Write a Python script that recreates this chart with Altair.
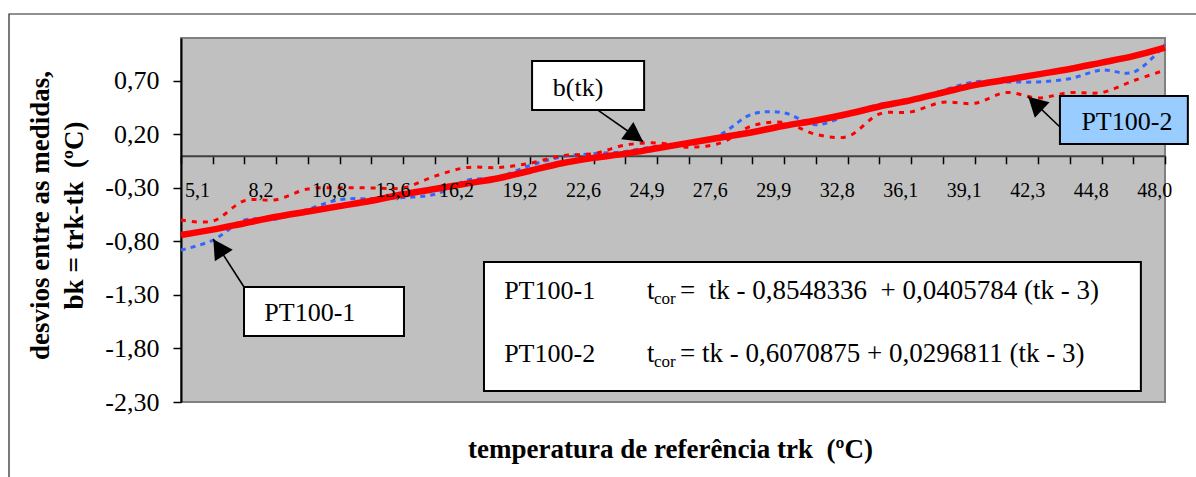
import math
import altair as alt
import pandas as pd

# ---------------- data ----------------
idx = list(range(32))  # category boundaries (positions along the x axis)

b_tk = [-0.74, -0.69, -0.63, -0.57, -0.52, -0.47, -0.42, -0.36, -0.31, -0.26,
        -0.21, -0.14, -0.07, -0.02, 0.02, 0.07, 0.12, 0.17, 0.22, 0.28,
        0.33, 0.39, 0.46, 0.52, 0.59, 0.66, 0.71, 0.76, 0.81, 0.87,
        0.93, 1.01]

pt100_1 = [-0.88, -0.79, -0.60, -0.59, -0.50, -0.41, -0.40, -0.39, -0.36, -0.23,
           -0.20, -0.09, -0.01, 0.02, 0.04, 0.09, 0.10, 0.20, 0.39, 0.40,
           0.29, 0.38, 0.48, 0.52, 0.61, 0.69, 0.69, 0.69, 0.72, 0.80,
           0.78, 1.04]

pt100_2 = [-0.60, -0.61, -0.42, -0.41, -0.31, -0.30, -0.30, -0.30, -0.19, -0.11,
           -0.11, -0.07, 0.00, 0.02, 0.10, 0.12, 0.08, 0.12, 0.28, 0.31,
           0.20, 0.18, 0.39, 0.41, 0.50, 0.49, 0.59, 0.54, 0.59, 0.59,
           0.70, 0.80]

cat_labels = ["5,1", "8,2", "10,8", "13,6", "16,2", "19,2", "22,6", "24,9",
              "27,6", "29,9", "32,8", "36,1", "39,1", "42,3", "44,8", "48,0"]
label_pos = list(range(0, 32, 2))

y_ticks = [-2.3, -1.8, -1.3, -0.8, -0.3, 0.2, 0.7]

# annotation boxes (data coordinates)
box_x0 = [11.06, 1.985, 27.69, 9.545]
box_x1 = [14.59, 7.025, 31.72, 30.24]
box_y0 = [0.885, -1.226, 0.558, -0.992]
box_y1 = [0.427, -1.683, 0.110, -2.197]
box_fill = ["white", "white", "#99CCFF", "white"]

box_text = ["b(tk)", "PT100-1", "PT100-2"]
box_tx = [12.51, 4.06, 29.80]
box_ty = [0.633, -1.469, 0.315]

# arrows: tail -> tip
arr_x0 = [13.10, 1.985, 27.69]
arr_y0 = [0.434, -1.226, 0.269]
arr_x1 = [14.56, 1.018, 26.69]
arr_y1 = [0.131, -0.780, 0.552]

# formula box content
f_text = ["PT100-1", "t", "cor", "=\u00a0 tk - 0,8548336\u00a0 + 0,0405784 (tk - 3)",
          "PT100-2", "t", "cor", "= tk - 0,6070875 + 0,0296811 (tk - 3)"]
f_x = [10.18, 14.68, 14.90, 15.72, 10.18, 14.68, 14.90, 15.72]
f_y = [-1.338, -1.338, -1.385, -1.338, -1.926, -1.926, -1.973, -1.926]
f_size = [26, 27, 17, 27, 26, 27, 17, 27]

# ---------------- layout ----------------
W, H = 984, 364
X_MIN, X_MAX = 0, 31
Y_MIN, Y_MAX = -2.3, 1.1
FONT = "'Liberation Serif', 'Times New Roman', 'DejaVu Serif', serif"

def px(x):
    return (x - X_MIN) / (X_MAX - X_MIN) * W

def py(y):
    return (Y_MAX - y) / (Y_MAX - Y_MIN) * H

x_axis_offset = -(H - py(0))

xs = alt.Scale(domain=[X_MIN, X_MAX], nice=False, zero=False)
ys = alt.Scale(domain=[Y_MIN, Y_MAX], nice=False, zero=False)

x_axis = alt.Axis(values=idx, labels=False, grid=False, tickSize=8, tickColor="black",
                  tickWidth=1.5, domainColor="#404040", domainWidth=2,
                  offset=x_axis_offset,
                  title="temperatura de referência trk\u00a0 (ºC)",
                  titleFont=FONT, titleFontSize=27, titleFontWeight="bold",
                  titleColor="black", titleX=489, titleY=302,
                  titleAlign="center", titleBaseline="alphabetic")

y_axis = alt.Axis(values=y_ticks, grid=False, tickSize=8, tickColor="black",
                  tickWidth=1.5, domainColor="black", domainWidth=2,
                  labelFont=FONT, labelFontSize=26, labelColor="black",
                  labelPadding=14,
                  labelExpr="replace(replace(format(datum.value, '.2f'), '.', ','), '\u2212', '-')",
                  title=["desvios entre as medidas,", "bk = trk-tk\u00a0 (ºC)"],
                  titleFont=FONT, titleFontSize=27, titleFontWeight="bold",
                  titleColor="black", titleAngle=270, titleX=-133, titleY=177,
                  titleAlign="center", titleBaseline="alphabetic", titleLineHeight=34)

def X(f):
    return alt.X(f, type="quantitative", scale=xs, axis=x_axis)

def Y(f):
    return alt.Y(f, type="quantitative", scale=ys, axis=y_axis)

# ---------------- layers ----------------
frame = alt.Chart(pd.DataFrame({"a": [0]})).mark_rect(
    fill=None, fillOpacity=0, stroke="#222222", strokeWidth=1.2
).encode(x=alt.value(9 - 181), x2=alt.value(1196 - 181 + 20),
         y=alt.value(14 - 38), y2=alt.value(477 - 38 + 20))

df1 = pd.DataFrame({"k": idx, "v": pt100_1})
df2 = pd.DataFrame({"k": idx, "v": pt100_2})
dfb = pd.DataFrame({"k": idx, "v": b_tk})

line1 = alt.Chart(df1).mark_line(color="#3366FF", strokeWidth=3, strokeDash=[5, 5],
                                 interpolate="catmull-rom").encode(x=X("k"), y=Y("v"))
line2 = alt.Chart(df2).mark_line(color="#FF0000", strokeWidth=3, strokeDash=[5, 6],
                                 interpolate="catmull-rom").encode(x=X("k"), y=Y("v"))
lineb = alt.Chart(dfb).mark_line(color="#FF0000", strokeWidth=6.5,
                                 interpolate="catmull-rom").encode(x=X("k"), y=Y("v"))

xlabels = alt.Chart(pd.DataFrame({"p": label_pos, "t": cat_labels, "z": [0] * 16})).mark_text(
    font=FONT, fontSize=20, color="black", align="left", baseline="alphabetic", dx=4, dy=41
).encode(x=X("p"), y=Y("z"), text="t:N")

boxes = alt.Chart(pd.DataFrame({"x0": box_x0, "x1": box_x1, "y0": box_y0, "y1": box_y1,
                                "f": box_fill})).mark_rect(
    stroke="black", strokeWidth=2
).encode(x=X("x0"), x2="x1", y=Y("y0"), y2="y1",
         fill=alt.Fill("f:N", scale=None))

angles = []
for a0, b0, a1, b1 in zip(arr_x0, arr_y0, arr_x1, arr_y1):
    dx = px(a1) - px(a0)
    dy = py(b1) - py(b0)
    angles.append(math.degrees(math.atan2(dx, -dy)) % 360)

arr_df = pd.DataFrame({"x0": arr_x0, "y0": arr_y0, "x1": arr_x1, "y1": arr_y1, "ang": angles})
arrow_lines = alt.Chart(arr_df).mark_rule(color="black", strokeWidth=1.6).encode(
    x=X("x0"), y=Y("y0"), x2="x1", y2="y1")
arrow_heads = alt.Chart(arr_df).mark_point(
    shape="M0,0L0.55,1L-0.55,1Z", filled=True, color="black", opacity=1, size=1500
).encode(x=X("x1"), y=Y("y1"), angle=alt.Angle("ang:Q", scale=None))

box_texts = alt.Chart(pd.DataFrame({"x": box_tx, "y": box_ty, "t": box_text})).mark_text(
    font=FONT, fontSize=26, color="black", align="center", baseline="middle"
).encode(x=X("x"), y=Y("y"), text="t:N")

formula = alt.Chart(pd.DataFrame({"x": f_x, "y": f_y, "t": f_text, "s": f_size})).mark_text(
    font=FONT, color="black", align="left", baseline="alphabetic"
).encode(x=X("x"), y=Y("y"), text="t:N", size=alt.Size("s:Q", scale=None))

chart = alt.layer(
    frame, line1, line2, lineb, xlabels, boxes, arrow_lines, arrow_heads, box_texts, formula
).properties(
    width=W, height=H,
    autosize=alt.AutoSizeParams(type="none"),
    padding={"left": 181, "top": 38, "right": 31, "bottom": 75},
    background="white",
).configure_view(
    fill="#C0C0C0", stroke="#808080", strokeWidth=2
)

chart.save("out.html", embed_options={"renderer": "svg", "actions": False})
